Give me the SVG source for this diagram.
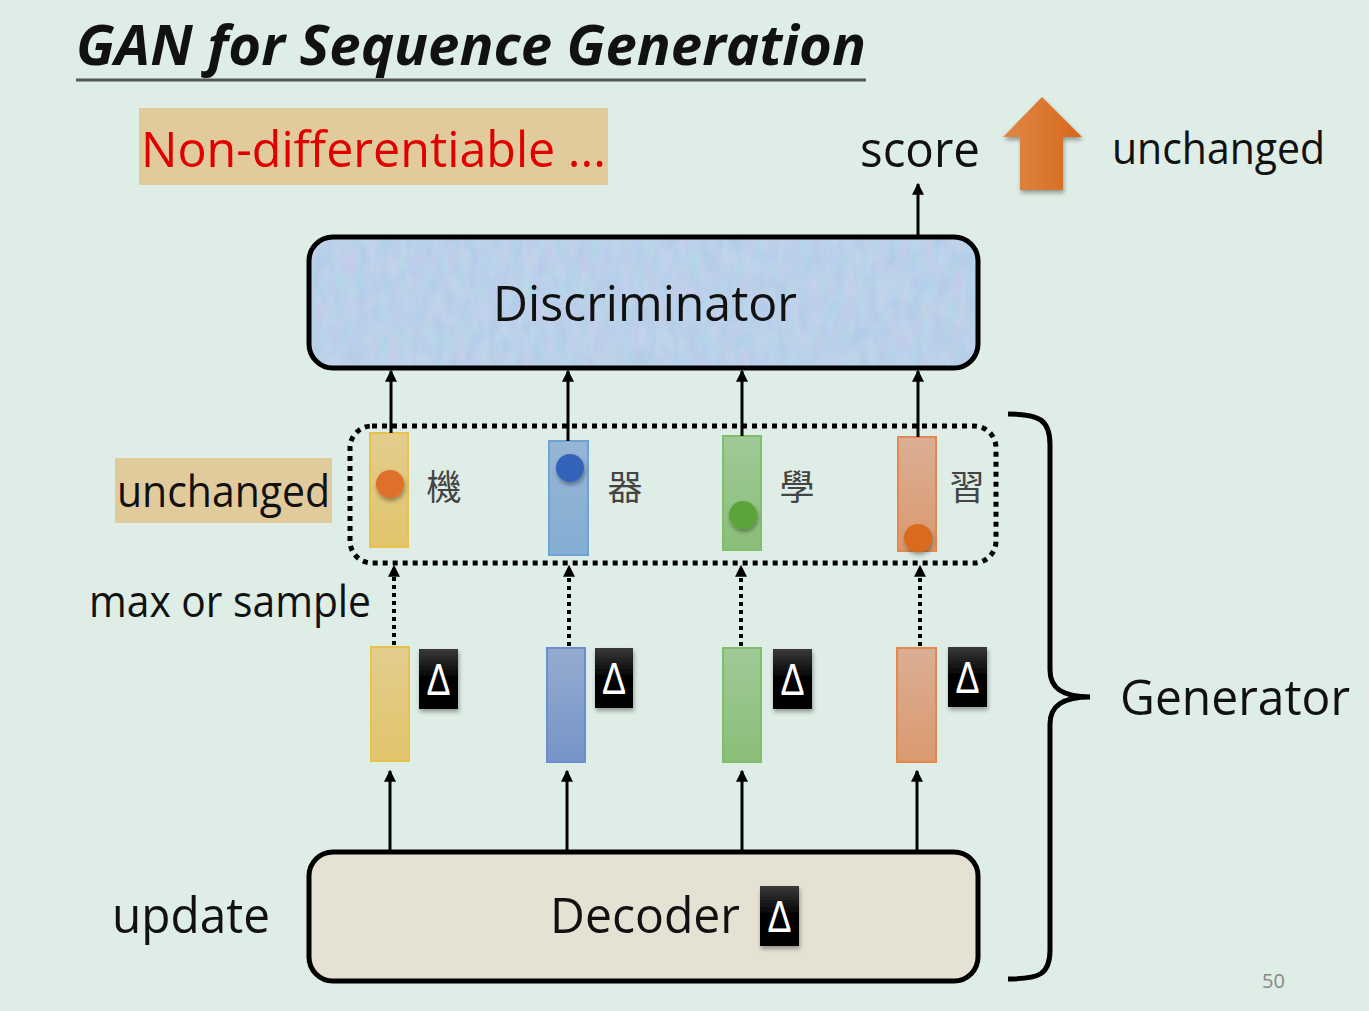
<svg xmlns="http://www.w3.org/2000/svg" width="1369" height="1011" viewBox="0 0 1369 1011">
<style>
.t{font-family:"Open Sans","Liberation Sans",sans-serif;fill:#111}
.cjk{font-family:"Noto Sans CJK TC","Noto Sans CJK SC",sans-serif;font-size:35px;fill:#444}
.ln{stroke:#000;stroke-width:3;fill:none}
.dot{stroke:#000;stroke-width:4;stroke-dasharray:4 4;fill:none}
.big{stroke:#000;stroke-width:5}
.dbox{fill:url(#gBlack);filter:url(#sh)}
.dtx{font-family:"Liberation Sans",sans-serif;font-size:44px;fill:#fff}
</style>
<defs>
<marker id="ah" viewBox="0 0 10 10" refX="9" refY="5" markerWidth="4" markerHeight="4" orient="auto" markerUnits="strokeWidth">
<path d="M0,0 L10,5 L0,10 z" fill="#000"/>
</marker>
<marker id="ah2" viewBox="0 0 10 10" refX="9" refY="5" markerWidth="3" markerHeight="3" orient="auto" markerUnits="strokeWidth">
<path d="M0,0 L10,5 L0,10 z" fill="#000"/>
</marker>
<linearGradient id="gBlack" x1="0" y1="0" x2="0" y2="1"><stop offset="0" stop-color="#3a3a3a"/><stop offset="0.5" stop-color="#000"/><stop offset="1" stop-color="#000"/></linearGradient>
<linearGradient id="gOr" x1="0" y1="0" x2="1" y2="0"><stop offset="0" stop-color="#E08848"/><stop offset="1" stop-color="#D6671C"/></linearGradient>
<linearGradient id="gY" x1="0" y1="0" x2="0" y2="1"><stop offset="0" stop-color="#E3CD8E"/><stop offset="1" stop-color="#E2C46C"/></linearGradient>
<linearGradient id="gB1" x1="0" y1="0" x2="0" y2="1"><stop offset="0" stop-color="#97B5D6"/><stop offset="1" stop-color="#84AED4"/></linearGradient>
<linearGradient id="gB2" x1="0" y1="0" x2="0" y2="1"><stop offset="0" stop-color="#95ACD0"/><stop offset="1" stop-color="#7694C8"/></linearGradient>
<linearGradient id="gG" x1="0" y1="0" x2="0" y2="1"><stop offset="0" stop-color="#A0CA98"/><stop offset="1" stop-color="#8ABE78"/></linearGradient>
<linearGradient id="gO" x1="0" y1="0" x2="0" y2="1"><stop offset="0" stop-color="#DBAE94"/><stop offset="1" stop-color="#DA9A70"/></linearGradient>
<filter id="sh" x="-30%" y="-30%" width="160%" height="160%"><feDropShadow dx="1" dy="3" stdDeviation="2" flood-color="#000" flood-opacity="0.35"/></filter>
<filter id="tex" x="0" y="0" width="100%" height="100%">
<feTurbulence type="fractalNoise" baseFrequency="0.09 0.04" numOctaves="3" seed="4" result="n"/>
<feColorMatrix in="n" type="matrix" values="0.5 0 0 0 0.45  0 0.3 0 0 0.6  0 0 0.2 0 0.8  0 0 0 0 1" result="c"/>
<feComposite in="c" in2="SourceGraphic" operator="in"/>
</filter>
</defs>
<rect width="1369" height="1011" fill="#DEEDE5"/>

<g id="title">
<text class="t" x="76" y="65" font-size="56" font-weight="bold" font-style="italic" textLength="790" lengthAdjust="spacingAndGlyphs">GAN for Sequence Generation</text>
<line x1="76" y1="80" x2="866" y2="80" stroke="#555" stroke-width="3"/>
</g>

<g id="nondiff">
<rect x="139" y="108" width="469" height="77" fill="#E1CB9D"/>
<text class="t" x="141" y="167" font-size="50" style="fill:#E00000" textLength="465" lengthAdjust="spacingAndGlyphs">Non-differentiable ...</text>
</g>

<g id="score">
<text class="t" x="860" y="167" font-size="50" textLength="120" lengthAdjust="spacingAndGlyphs">score</text>
</g>

<g id="up-arrow">
<polygon points="1042,97 1082,137 1063,137 1063,190 1020,190 1020,137 1003,137" fill="url(#gOr)" filter="url(#sh)"/>
</g>

<g id="unchanged-top">
<text class="t" x="1112" y="164" font-size="43" textLength="213" lengthAdjust="spacingAndGlyphs">unchanged</text>
</g>

<g id="discriminator">
<rect x="309" y="237" width="669" height="131" rx="24" fill="#A2C4E2"/>
<rect x="309" y="237" width="669" height="131" rx="24" fill="#fff" filter="url(#tex)" opacity="0.45"/>
<rect x="309" y="237" width="669" height="131" rx="24" fill="none" class="big"/>
<text class="t" x="493" y="321" font-size="50" textLength="304" lengthAdjust="spacingAndGlyphs">Discriminator</text>
</g>

<g id="unchanged-left">
<rect x="115" y="458" width="217" height="65" fill="#E1CB9D"/>
<text class="t" x="117" y="507" font-size="43" textLength="213" lengthAdjust="spacingAndGlyphs">unchanged</text>
</g>

<g id="max-or-sample">
<text class="t" x="89" y="617" font-size="43" textLength="282" lengthAdjust="spacingAndGlyphs">max or sample</text>
</g>

<g id="sampled-group">
<rect x="350" y="426" width="646" height="137" rx="22" fill="none" stroke="#000" stroke-width="5" stroke-dasharray="5 5"/>
</g>

<g id="tok1">
<rect x="370" y="433" width="38" height="114" fill="url(#gY)" stroke="#E8C24C" stroke-width="2"/>
<circle cx="390" cy="484" r="14" fill="#DF7029" filter="url(#sh)"/>
<text class="cjk" x="444" y="500" text-anchor="middle">機</text>
</g>
<g id="tok2">
<rect x="549" y="441" width="39" height="114" fill="url(#gB1)" stroke="#6FA3D6" stroke-width="2"/>
<circle cx="570" cy="468" r="14" fill="#3263B9" filter="url(#sh)"/>
<text class="cjk" x="625" y="500" text-anchor="middle">器</text>
</g>
<g id="tok3">
<rect x="723" y="436" width="38" height="114" fill="url(#gG)" stroke="#80BE6E" stroke-width="2"/>
<circle cx="743" cy="515" r="14" fill="#5BA33A" filter="url(#sh)"/>
<text class="cjk" x="797" y="500" text-anchor="middle">學</text>
</g>
<g id="tok4">
<rect x="898" y="437" width="38" height="114" fill="url(#gO)" stroke="#E4894E" stroke-width="2"/>
<circle cx="918" cy="538" r="14" fill="#DA6A1E" filter="url(#sh)"/>
<text class="cjk" x="967" y="500" text-anchor="middle">習</text>
</g>

<g id="dist1">
<rect x="371" y="647" width="38" height="114" fill="url(#gY)" stroke="#E8C24C" stroke-width="2"/>
<rect class="dbox" x="419" y="649" width="39" height="60"/>
<text class="dtx" x="438.5" y="695" text-anchor="middle" textLength="24" lengthAdjust="spacingAndGlyphs">Δ</text>
</g>
<g id="dist2">
<rect x="547" y="648" width="38" height="114" fill="url(#gB2)" stroke="#6A8ED0" stroke-width="2"/>
<rect class="dbox" x="595" y="648" width="38" height="60"/>
<text class="dtx" x="614" y="694" text-anchor="middle" textLength="24" lengthAdjust="spacingAndGlyphs">Δ</text>
</g>
<g id="dist3">
<rect x="723" y="648" width="38" height="114" fill="url(#gG)" stroke="#80BE6E" stroke-width="2"/>
<rect class="dbox" x="773" y="649" width="39" height="60"/>
<text class="dtx" x="792.5" y="695" text-anchor="middle" textLength="24" lengthAdjust="spacingAndGlyphs">Δ</text>
</g>
<g id="dist4">
<rect x="897" y="648" width="39" height="114" fill="url(#gO)" stroke="#E4894E" stroke-width="2"/>
<rect class="dbox" x="948" y="647" width="39" height="60"/>
<text class="dtx" x="967.5" y="693" text-anchor="middle" textLength="24" lengthAdjust="spacingAndGlyphs">Δ</text>
</g>

<g id="decoder">
<rect x="309" y="852" width="669" height="129" rx="24" fill="#E5E2D4" class="big"/>
<text class="t" x="550" y="933" font-size="50" textLength="190" lengthAdjust="spacingAndGlyphs">Decoder</text>
<rect class="dbox" x="760" y="886" width="39" height="60"/>
<text class="dtx" x="779.5" y="932" text-anchor="middle" textLength="24" lengthAdjust="spacingAndGlyphs">Δ</text>
</g>

<g id="update">
<text class="t" x="112" y="933" font-size="50" textLength="158" lengthAdjust="spacingAndGlyphs">update</text>
</g>

<g id="generator">
<path d="M1008,414 C1040,414 1050,420 1050,445 L1050,670 C1050,690 1065,697 1090,697 C1065,697 1050,704 1050,724 L1050,950 C1050,974 1040,979 1008,979" fill="none" stroke="#000" stroke-width="5"/>
<text class="t" x="1120" y="715" font-size="50" textLength="230" lengthAdjust="spacingAndGlyphs">Generator</text>
</g>

<g id="page-number">
<text class="t" x="1262" y="988" font-size="20" style="fill:#888">50</text>
</g>

<g id="connectors">
<line class="ln" x1="918" y1="236" x2="918" y2="184" marker-end="url(#ah)"/>
<line class="ln" x1="391" y1="433" x2="391" y2="371" marker-end="url(#ah)"/>
<line class="ln" x1="568" y1="441" x2="568" y2="371" marker-end="url(#ah)"/>
<line class="ln" x1="742" y1="436" x2="742" y2="371" marker-end="url(#ah)"/>
<line class="ln" x1="918" y1="437" x2="918" y2="371" marker-end="url(#ah)"/>
<line class="dot" x1="394" y1="645" x2="394" y2="566" marker-end="url(#ah2)"/>
<line class="dot" x1="569" y1="646" x2="569" y2="566" marker-end="url(#ah2)"/>
<line class="dot" x1="741" y1="646" x2="741" y2="566" marker-end="url(#ah2)"/>
<line class="dot" x1="920" y1="646" x2="920" y2="566" marker-end="url(#ah2)"/>
<line class="ln" x1="390" y1="851" x2="390" y2="771" marker-end="url(#ah)"/>
<line class="ln" x1="567" y1="851" x2="567" y2="771" marker-end="url(#ah)"/>
<line class="ln" x1="742" y1="851" x2="742" y2="771" marker-end="url(#ah)"/>
<line class="ln" x1="917" y1="851" x2="917" y2="771" marker-end="url(#ah)"/>
</g>
</svg>
